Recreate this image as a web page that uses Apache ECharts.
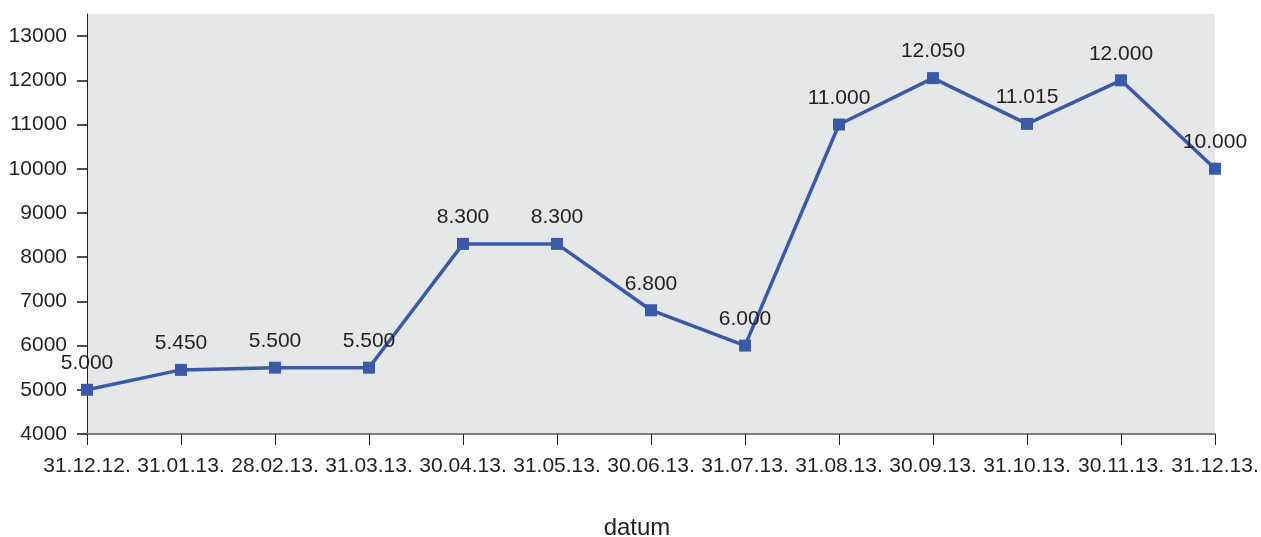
<!DOCTYPE html>
<html>
<head>
<meta charset="utf-8">
<script src="https://cdn.jsdelivr.net/npm/echarts@6/dist/echarts.min.js"></script>
<style>
  html, body { margin: 0; padding: 0; background: #ffffff; }
  #chart { width: 1261px; height: 537px; }
</style>
</head>
<body>
<div id="chart"></div>
<script>
// Month-end dates and values
const dates = ['31.12.12.', '31.01.13.', '28.02.13.', '31.03.13.', '30.04.13.', '31.05.13.',
  '30.06.13.', '31.07.13.', '31.08.13.', '30.09.13.', '31.10.13.', '30.11.13.', '31.12.13.'];
const values = [5000, 5450, 5500, 5500, 8300, 8300, 6800, 6000, 11000, 12050, 11015, 12000, 10000];

const yMin = 4000;
const yMax = 13500;
const yStep = 1000;

const textColor = '#231f20';
const fontFamily = 'Liberation Sans, Arial, sans-serif';

// Thousands separated by a dot, e.g. 11.015
function fmtDot(v) {
  return String(v).replace(/\B(?=(\d{3})+(?!\d))/g, '.');
}

const chart = echarts.init(document.getElementById('chart'));
chart.setOption({
  animation: false,
  grid: {
    left: 87, right: 46, top: 14, bottom: 103,
    outerBoundsMode: 'none',
    show: true, backgroundColor: '#e6e7e8', borderWidth: 0
  },
  xAxis: {
    type: 'category',
    data: dates,
    boundaryGap: false,
    name: 'datum',
    nameLocation: 'middle',
    nameGap: 82,
    nameTextStyle: { color: textColor, fontSize: 24, fontFamily, padding: [0, 28, 0, 0] },
    axisLine: { lineStyle: { color: '#7f7f7f', width: 2 } },
    axisTick: { show: true, length: 11, alignWithLabel: true, lineStyle: { color: '#231f20', width: 1 } },
    axisLabel: { interval: 0, margin: 22, color: textColor, fontSize: 21, fontFamily },
    splitLine: { show: false }
  },
  yAxis: {
    type: 'value',
    min: yMin,
    max: yMax,
    interval: yStep,
    axisLine: { show: true, lineStyle: { color: '#231f20', width: 1 } },
    axisTick: { show: true, length: 10, lineStyle: { color: '#4d4d4d', width: 2 } },
    axisLabel: {
      showMaxLabel: false, margin: 20, color: textColor, fontSize: 21, fontFamily,
      formatter: v => String(v)
    },
    splitLine: { show: false }
  },
  series: [{
    type: 'line',
    data: values,
    symbol: 'rect',
    symbolSize: 12,
    lineStyle: { color: '#3a5aa8', width: 3.5 },
    itemStyle: { color: '#3a5aa8' },
    label: {
      show: true,
      position: 'top',
      distance: 10,
      color: textColor,
      fontSize: 21,
      fontFamily,
      formatter: p => fmtDot(p.value)
    }
  }]
});
</script>
</body>
</html>
